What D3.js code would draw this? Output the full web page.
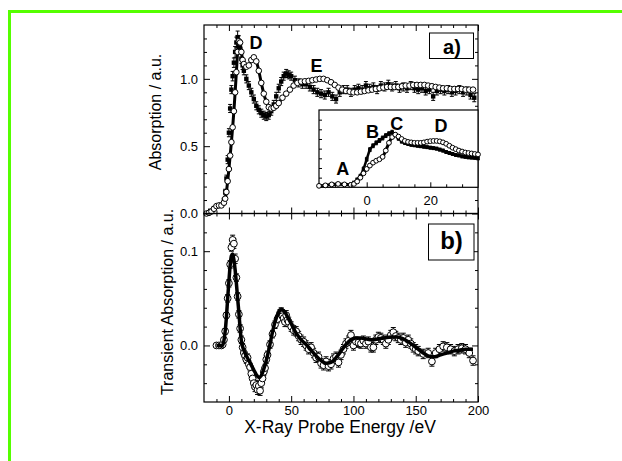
<!DOCTYPE html>
<html>
<head>
<meta charset="utf-8">
<script src="https://cdn.jsdelivr.net/npm/d3@7"></script>
<style>
  body { margin: 0; background: #fff; }
  svg { display: block; }
  text { font-family: "Liberation Sans", Arial, Helvetica, sans-serif; }
</style>
</head>
<body>
<svg id="chart" width="622" height="461"></svg>
<script>
// ---- Panel a: ground-state absorption (open circles + line) ----
const groundE = [
  -18,-16,-14,-12,-10,-8,-6,-4,-3,-2,
  -1,0,1,2,3,4,5,6,7,8,
  9,10,11,12,14,16,18,20,22,24,
  26,28,30,32,34,36,38,40,43,46,
  49,52,55,58,61,64,67,70,73,76,
  79,82,85,88,91,94,97,100,103,106,
  109,112,115,118,121,124,127,130,133,136,
  139,142,145,148,151,154,157,160,163,166,
  169,172,175,178,181,184,187,190,193,196
];
const groundAbs = [
  0.000,0.005,0.015,0.035,0.055,0.060,0.060,0.080,0.110,0.160,
  0.240,0.330,0.430,0.530,0.640,0.760,0.900,1.050,1.200,1.280,
  1.270,1.200,1.140,1.110,1.090,1.100,1.140,1.160,1.130,1.060,
  0.970,0.890,0.830,0.790,0.780,0.785,0.800,0.820,0.860,0.890,
  0.920,0.950,0.970,0.980,0.982,0.985,0.990,0.995,1.000,1.000,
  0.990,0.975,0.955,0.935,0.920,0.910,0.905,0.900,0.900,0.905,
  0.910,0.915,0.920,0.925,0.930,0.935,0.940,0.940,0.940,0.940,
  0.945,0.950,0.950,0.955,0.955,0.955,0.955,0.950,0.945,0.940,
  0.935,0.930,0.930,0.925,0.925,0.925,0.925,0.920,0.920,0.920
];

// ---- Panel a: excited-state absorption (points with error bars) ----
const excitedE = [
  -18,-15,-12,-9,-6,-4,-3,-2,-1,0,
  1,2,3,4,5,6,7,8,9,10,
  11,12,14,16,18,20,22,24,26,28,
  30,32,34,36,38,40,42,44,46,48,
  50,53,56,59,62,65,68,71,74,77,
  80,83,86,89,92,95,98,101,104,107,
  110,113,116,119,122,125,128,131,134,137,
  140,143,146,149,152,155,158,161,164,167,
  170,173,176,179,182,185,188,191,194,197
];
const excitedAbs = [
  0.000,0.020,0.040,0.060,0.065,0.100,0.160,0.260,0.400,0.600,
  0.780,0.920,1.020,1.120,1.200,1.270,1.310,1.280,1.220,1.150,
  1.100,1.060,1.000,0.950,0.900,0.850,0.800,0.770,0.745,0.730,
  0.720,0.730,0.760,0.810,0.870,0.930,0.980,1.020,1.040,1.030,
  1.020,0.990,0.970,0.960,0.960,0.940,0.920,0.900,0.890,0.880,
  0.900,0.870,0.850,0.900,0.920,0.920,0.900,0.920,0.930,0.920,
  0.950,0.930,0.940,0.920,0.950,0.940,0.960,0.940,0.950,0.930,
  0.940,0.930,0.950,0.930,0.920,0.930,0.910,0.920,0.870,0.910,
  0.920,0.910,0.920,0.900,0.910,0.920,0.900,0.910,0.880,0.860
];
const excitedErr = [
  0.010,0.010,0.010,0.010,0.010,0.015,0.020,0.025,0.030,0.030,
  0.030,0.030,0.035,0.035,0.040,0.040,0.045,0.040,0.035,0.035,
  0.030,0.030,0.030,0.030,0.030,0.030,0.030,0.030,0.030,0.030,
  0.030,0.030,0.030,0.030,0.030,0.030,0.030,0.030,0.030,0.030,
  0.030,0.030,0.030,0.030,0.030,0.030,0.030,0.030,0.030,0.030,
  0.030,0.030,0.030,0.030,0.030,0.030,0.030,0.030,0.030,0.030,
  0.030,0.030,0.030,0.030,0.030,0.030,0.030,0.030,0.030,0.030,
  0.030,0.030,0.030,0.030,0.030,0.030,0.030,0.030,0.030,0.030,
  0.030,0.030,0.030,0.030,0.030,0.030,0.030,0.030,0.030,0.030
];

// ---- Inset: pre-edge / edge region ----
const insetE = [
  -15,-13,-11,-9,-7,-5,-4,-3,-2,-1,
  0,1,2,3,4,5,6,7,8,9,
  10,11,12,13,14,15,16,17,18,19,
  20,21,22,23,24,25,26,27,28,29,
  30,31,32,33,34,35
];
const insetGround = [
  0.030,0.040,0.060,0.070,0.060,0.050,0.070,0.120,0.200,0.290,
  0.380,0.450,0.510,0.550,0.580,0.630,0.760,0.920,1.040,1.090,
  1.050,1.000,0.960,0.940,0.930,0.920,0.920,0.920,0.930,0.945,
  0.955,0.960,0.960,0.950,0.930,0.900,0.860,0.820,0.790,0.760,
  0.740,0.720,0.710,0.700,0.690,0.680
];
const insetExcited = [
  0.030,0.040,0.060,0.070,0.060,0.060,0.100,0.160,0.230,0.380,
  0.580,0.780,0.860,0.920,0.970,1.020,1.070,1.110,1.140,1.090,
  1.010,0.950,0.920,0.900,0.880,0.870,0.860,0.850,0.840,0.830,
  0.820,0.810,0.800,0.780,0.760,0.730,0.710,0.690,0.670,0.660,
  0.640,0.630,0.620,0.615,0.610,0.600
];
const insetErr = [
  0.010,0.010,0.010,0.010,0.010,0.010,0.020,0.030,0.040,0.040,
  0.040,0.040,0.040,0.040,0.040,0.040,0.040,0.040,0.040,0.040,
  0.035,0.035,0.035,0.035,0.030,0.030,0.030,0.030,0.030,0.030,
  0.030,0.030,0.030,0.030,0.030,0.030,0.030,0.030,0.030,0.030,
  0.030,0.030,0.030,0.030,0.030,0.030
];

// ---- Panel b: transient absorption (circles with error bars) + fit ----
const transE = [
  -10,-8,-6,-5,-4,-3,-2,-1,0,1,
  2,3,4,5,6,7,8,9,10,11,
  12,13,14,15,16,17,18,19,20,21,
  22,23,24,25,26,27,28,29,30,31,
  33,35,37,39,41,42,43,44,45,46,
  47,48,50,52,54,56,58,60,62,64,
  66,68,70,72,74,76,78,80,82,84,
  86,88,90,92,94,96,98,100,102,104,
  106,108,110,112,114,116,118,120,122,124,
  126,128,130,132,134,136,138,140,142,144,
  146,148,150,152,156,160,163,166,169,172,
  175,178,181,184,187,190,193,196
];
const transDA = [
  0.000,0.000,0.000,0.001,0.006,0.015,0.032,0.050,0.066,0.086,
  0.104,0.112,0.108,0.092,0.072,0.052,0.033,0.018,0.006,-0.002,
  -0.008,-0.011,-0.015,-0.013,-0.020,-0.023,-0.030,-0.035,-0.040,-0.044,
  -0.042,-0.047,-0.043,-0.048,-0.040,-0.035,-0.028,-0.024,-0.015,-0.010,
  0.001,0.012,0.022,0.028,0.034,0.036,0.031,0.029,0.025,0.032,
  0.027,0.025,0.020,0.016,0.015,0.010,0.006,0.004,0.000,-0.004,
  -0.002,-0.008,-0.013,-0.012,-0.019,-0.021,-0.017,-0.022,-0.020,-0.014,
  -0.012,-0.018,-0.010,-0.004,0.002,0.005,0.011,0.000,0.004,0.003,
  0.002,0.005,0.002,0.004,-0.002,-0.002,0.006,0.009,0.008,0.006,
  0.002,0.006,0.011,0.014,0.010,0.008,0.006,0.008,0.003,0.006,
  0.002,-0.002,-0.004,-0.006,-0.009,-0.008,-0.017,-0.008,-0.004,-0.001,
  -0.002,-0.004,-0.006,-0.004,-0.003,-0.004,-0.008,-0.016
];
const transErr = [
  0.001,0.001,0.001,0.002,0.002,0.003,0.003,0.004,0.004,0.004,
  0.004,0.005,0.005,0.005,0.004,0.004,0.004,0.004,0.004,0.004,
  0.004,0.004,0.004,0.004,0.004,0.004,0.004,0.004,0.005,0.005,
  0.005,0.005,0.005,0.005,0.005,0.004,0.004,0.004,0.004,0.004,
  0.004,0.004,0.004,0.004,0.004,0.004,0.004,0.004,0.005,0.005,
  0.005,0.005,0.005,0.005,0.005,0.005,0.005,0.005,0.005,0.005,
  0.005,0.005,0.005,0.005,0.005,0.005,0.005,0.005,0.005,0.005,
  0.005,0.005,0.005,0.005,0.005,0.005,0.005,0.005,0.005,0.005,
  0.005,0.005,0.005,0.005,0.005,0.005,0.005,0.005,0.005,0.005,
  0.005,0.005,0.005,0.005,0.005,0.005,0.005,0.005,0.005,0.005,
  0.005,0.005,0.005,0.005,0.005,0.005,0.005,0.005,0.005,0.005,
  0.005,0.005,0.005,0.005,0.005,0.005,0.005,0.005
];
const fitE = [
  -10,-5,-4,-3,-2,-1,0,1,2,3,
  4,5,6,7,8,9,10,12,14,16,
  18,20,22,24,26,28,30,32,34,36,
  38,40,42,44,46,48,50,54,58,62,
  66,70,74,78,82,86,90,94,98,102,
  106,110,115,120,125,130,135,140,145,150,
  155,160,165,170,175,180,185,190,196
];
const fitDA = [
  0,0,0.005,0.015,0.030,0.050,0.068,0.085,0.095,0.097,
  0.091,0.080,0.066,0.050,0.035,0.018,0.005,-0.005,-0.011,-0.016,
  -0.021,-0.026,-0.031,-0.034,-0.032,-0.025,-0.016,-0.005,0.008,0.020,
  0.029,0.035,0.038,0.037,0.033,0.028,0.023,0.013,0.006,0.001,
  -0.005,-0.011,-0.016,-0.019,-0.018,-0.013,-0.006,0.001,0.006,0.008,
  0.008,0.007,0.006,0.007,0.008,0.009,0.009,0.007,0.003,-0.002,
  -0.007,-0.011,-0.012,-0.010,-0.008,-0.006,-0.005,-0.004,-0.004
];

// ---- Tick values ----
const energyMajor = [0, 50, 100, 150, 200];
const energyMinor = [-10, 10, 20, 30, 40, 60, 70, 80, 90, 110, 120, 130, 140, 160, 170, 180, 190];
const absMajor = [0, 0.5, 1.0];
const absMinor = [0.1, 0.2, 0.3, 0.4, 0.6, 0.7, 0.8, 0.9, 1.1, 1.2, 1.3];
const transMajor = [0, 0.1];
const transMinor = [-0.04, -0.02, 0.02, 0.04, 0.06, 0.08, 0.12];
const insetXMajor = [0, 20];
const insetXMinor = [-10, -5, 5, 10, 15, 25, 30];
const insetYTicks = [0.2, 0.4, 0.6, 0.8, 1.0, 1.2, 1.4];

const svg = d3.select("#chart");

// Frame lines along top and left
svg.append("rect").attr("x", 8).attr("y", 10).attr("width", 614).attr("height", 3).attr("fill", "#55ff00");
svg.append("rect").attr("x", 8).attr("y", 10).attr("width", 3).attr("height", 451).attr("fill", "#55ff00");

const X0 = 204, X1 = 478;
const A_TOP = 25, MID = 213.5, B_BOT = 402;

const x = d3.scaleLinear().domain([-20, 200]).range([X0, X1]);
const yA = d3.scaleLinear().domain([0, 1.4]).range([MID, A_TOP]);
const yB = d3.scaleLinear().domain([-0.06, 0.14]).range([B_BOT, MID]);

function tickAxis(orient, scale, values, size, tx, ty, labelled, fmt, pad, fs) {
  const ax = d3[orient](scale).tickValues(values).tickSize(-size)
    .tickPadding(pad || 5).tickFormat(labelled ? fmt : "");
  const g = svg.append("g").attr("transform", `translate(${tx},${ty})`).call(ax);
  g.select(".domain").remove();
  g.selectAll("line").attr("stroke", "#000").attr("stroke-width", 1);
  g.attr("font-family", null).attr("font-size", null);
  g.selectAll("text").attr("fill", "#000").style("font-size", (fs || 13) + "px");
  return g;
}

// ---- Panel a ----
const pa = svg.append("g");
// excited-state error bars and points
const exc = excitedE.map((e, i) => ({ e, v: excitedAbs[i], s: excitedErr[i] }));
pa.selectAll("line.eb").data(exc).join("line")
  .attr("x1", d => x(d.e)).attr("x2", d => x(d.e))
  .attr("y1", d => yA(d.v - d.s)).attr("y2", d => yA(d.v + d.s))
  .attr("stroke", "#000").attr("stroke-width", 1);
pa.selectAll("path.cap").data(exc).join("path")
  .attr("d", d => `M${x(d.e) - 2},${yA(d.v - d.s)}h4M${x(d.e) - 2},${yA(d.v + d.s)}h4`)
  .attr("stroke", "#000").attr("stroke-width", 1);
pa.selectAll("rect.ex").data(exc).join("rect")
  .attr("x", d => x(d.e) - 2.2).attr("y", d => yA(d.v) - 2.2)
  .attr("width", 4.4).attr("height", 4.4).attr("fill", "#000");

// ground-state line and circles
const gnd = groundE.map((e, i) => ({ e, v: groundAbs[i] }));
pa.append("path").datum(gnd)
  .attr("d", d3.line().x(d => x(d.e)).y(d => yA(d.v)).curve(d3.curveMonotoneX))
  .attr("fill", "none").attr("stroke", "#000").attr("stroke-width", 3);
pa.selectAll("circle.g").data(gnd).join("circle")
  .attr("cx", d => x(d.e)).attr("cy", d => yA(d.v)).attr("r", 2.8)
  .attr("fill", "#fff").attr("stroke", "#000").attr("stroke-width", 1);

// panel a frame and ticks
svg.append("rect").attr("x", X0).attr("y", A_TOP).attr("width", X1 - X0).attr("height", MID - A_TOP)
  .attr("fill", "none").attr("stroke", "#000").attr("stroke-width", 1.2);
tickAxis("axisLeft", yA, absMajor, 6, X0, 0, true, d3.format(".1f"), 6);
tickAxis("axisLeft", yA, absMinor, 3, X0, 0, false);
tickAxis("axisRight", yA, absMajor, 6, X1, 0, false);
tickAxis("axisRight", yA, absMinor, 3, X1, 0, false);
tickAxis("axisTop", x, energyMajor, 6, 0, A_TOP, false);
tickAxis("axisTop", x, energyMinor, 3, 0, A_TOP, false);
tickAxis("axisBottom", x, energyMajor, 6, 0, MID, false);
tickAxis("axisBottom", x, energyMinor, 3, 0, MID, false);

// peak labels
svg.append("text").attr("x", 256).attr("y", 49).attr("text-anchor", "middle")
  .style("font-size", "18px").style("font-weight", "bold").text("D");
svg.append("text").attr("x", 316.5).attr("y", 71.5).attr("text-anchor", "middle")
  .style("font-size", "18px").style("font-weight", "bold").text("E");

// panel a tag
svg.append("rect").attr("x", 429.5).attr("y", 33).attr("width", 44).attr("height", 25.5)
  .attr("fill", "#fff").attr("stroke", "#000").attr("stroke-width", 1);
svg.append("text").attr("x", 452).attr("y", 53.5).attr("text-anchor", "middle")
  .style("font-size", "20px").style("font-weight", "bold").text("a)");

// ---- Inset ----
const IX0 = 319, IX1 = 478, IY0 = 110, IY1 = 187.3;
const xI = d3.scaleLinear().domain([-15, 35]).range([IX0, IX1]);
const yI = d3.scaleLinear().domain([0, 1.6]).range([IY1, IY0]);
svg.append("rect").attr("x", IX0).attr("y", IY0).attr("width", IX1 - IX0).attr("height", IY1 - IY0)
  .attr("fill", "#fff").attr("stroke", "#000").attr("stroke-width", 1.2);
const ins = svg.append("g");
const iex = insetE.map((e, i) => ({ e, v: insetExcited[i], s: insetErr[i] }));
ins.selectAll("path.ib").data(iex).join("path")
  .attr("d", d => `M${xI(d.e)},${yI(d.v - d.s)}V${yI(d.v + d.s)}M${xI(d.e) - 1.5},${yI(d.v - d.s)}h3M${xI(d.e) - 1.5},${yI(d.v + d.s)}h3`)
  .attr("stroke", "#000").attr("stroke-width", 1);
ins.append("path").datum(iex)
  .attr("d", d3.line().x(d => xI(d.e)).y(d => yI(d.v)).curve(d3.curveMonotoneX))
  .attr("fill", "none").attr("stroke", "#000").attr("stroke-width", 2.5);
ins.selectAll("rect.ix").data(iex).join("rect")
  .attr("x", d => xI(d.e) - 1.8).attr("y", d => yI(d.v) - 1.8)
  .attr("width", 3.6).attr("height", 3.6).attr("fill", "#000");
const ign = insetE.map((e, i) => ({ e, v: insetGround[i] }));
ins.append("path").datum(ign)
  .attr("d", d3.line().x(d => xI(d.e)).y(d => yI(d.v)).curve(d3.curveMonotoneX))
  .attr("fill", "none").attr("stroke", "#000").attr("stroke-width", 3);
ins.selectAll("circle.ig").data(ign).join("circle")
  .attr("cx", d => xI(d.e)).attr("cy", d => yI(d.v)).attr("r", 2.4)
  .attr("fill", "#fff").attr("stroke", "#000").attr("stroke-width", 1);
tickAxis("axisBottom", xI, insetXMajor, 5, 0, IY1, true, d3.format("d"), 8.5);
tickAxis("axisBottom", xI, insetXMinor, 3, 0, IY1, false);
tickAxis("axisLeft", yI, insetYTicks, 3, IX0, 0, false);

[["A", 342.7, 175], ["B", 372.5, 138.3], ["C", 396.7, 130], ["D", 441, 131.7]].forEach(([t, tx, ty]) => {
  svg.append("text").attr("x", tx).attr("y", ty).attr("text-anchor", "middle")
    .style("font-size", "18px").style("font-weight", "bold").text(t);
});

// ---- Panel b ----
const pb = svg.append("g");
const tr = transE.map((e, i) => ({ e, v: transDA[i], s: transErr[i] }));
pb.selectAll("path.tb").data(tr).join("path")
  .attr("d", d => `M${x(d.e)},${yB(d.v - d.s)}V${yB(d.v + d.s)}M${x(d.e) - 2.5},${yB(d.v - d.s)}h5M${x(d.e) - 2.5},${yB(d.v + d.s)}h5`)
  .attr("stroke", "#000").attr("stroke-width", 1);
pb.selectAll("circle.t").data(tr).join("circle")
  .attr("cx", d => x(d.e)).attr("cy", d => yB(d.v)).attr("r", 3.4)
  .attr("fill", "#fff").attr("stroke", "#000").attr("stroke-width", 1);
const fit = fitE.map((e, i) => ({ e, v: fitDA[i] }));
pb.append("path").datum(fit)
  .attr("d", d3.line().x(d => x(d.e)).y(d => yB(d.v)).curve(d3.curveMonotoneX))
  .attr("fill", "none").attr("stroke", "#000").attr("stroke-width", 3.5)
  .attr("stroke-linejoin", "round");

svg.append("rect").attr("x", X0).attr("y", MID).attr("width", X1 - X0).attr("height", B_BOT - MID)
  .attr("fill", "none").attr("stroke", "#000").attr("stroke-width", 1.2);
tickAxis("axisLeft", yB, transMajor, 6, X0, 0, true, d3.format(".1f"), 6);
tickAxis("axisLeft", yB, transMinor, 3, X0, 0, false);
tickAxis("axisRight", yB, transMajor, 6, X1, 0, false);
tickAxis("axisRight", yB, transMinor, 3, X1, 0, false);
tickAxis("axisTop", x, energyMajor, 6, 0, MID, false);
tickAxis("axisTop", x, energyMinor, 3, 0, MID, false);
tickAxis("axisBottom", x, energyMajor, 6, 0, B_BOT, true, d3.format("d"), 4);
tickAxis("axisBottom", x, energyMinor, 3, 0, B_BOT, false);

svg.append("rect").attr("x", 428.5).attr("y", 224).attr("width", 45.5).attr("height", 36)
  .attr("fill", "#fff").attr("stroke", "#000").attr("stroke-width", 1);
svg.append("text").attr("x", 451.5).attr("y", 249).attr("text-anchor", "middle")
  .style("font-size", "24px").style("font-weight", "bold").text("b)");

// ---- Axis titles ----
svg.append("text").attr("transform", "translate(161,112) rotate(-90)").attr("text-anchor", "middle")
  .style("font-size", "16px").text("Absorption / a.u.");
svg.append("text").attr("transform", "translate(173,302) rotate(-90)").attr("text-anchor", "middle")
  .style("font-size", "16px").text("Transient Absorption / a.u.");
svg.append("text").attr("x", 340).attr("y", 433).attr("text-anchor", "middle")
  .style("font-size", "17.5px").text("X-Ray Probe Energy /eV");
</script>
</body>
</html>
